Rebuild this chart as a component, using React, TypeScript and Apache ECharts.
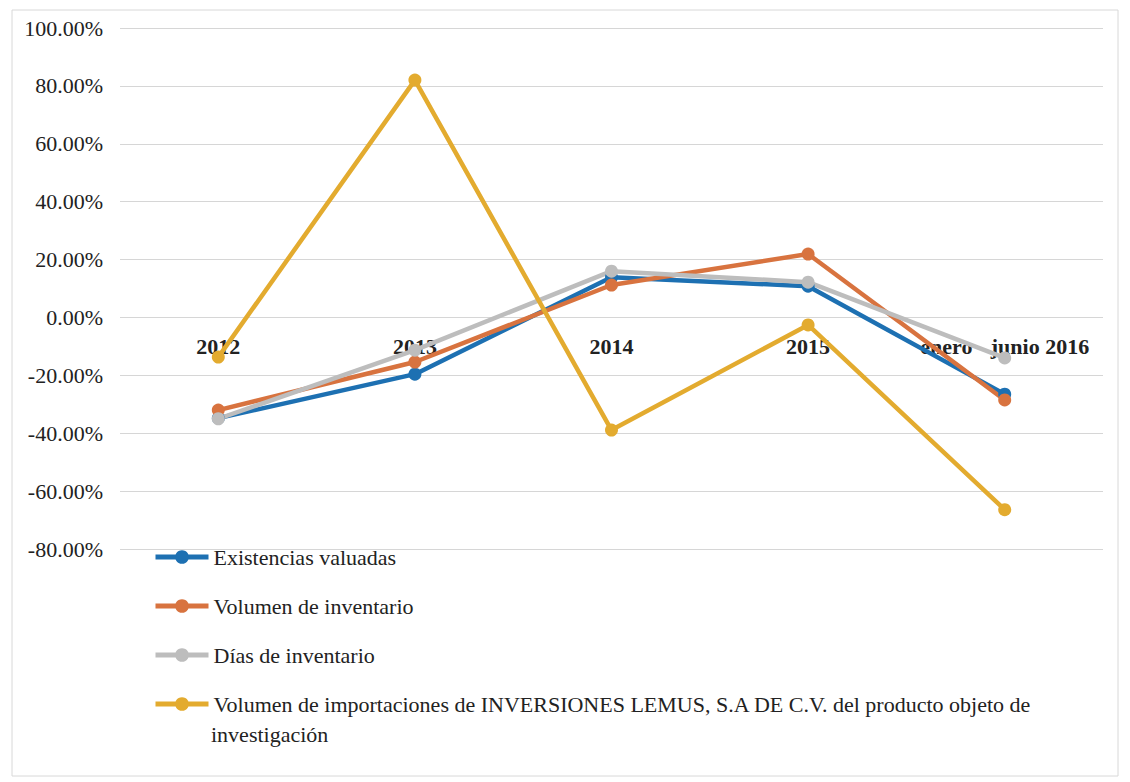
import React, { useEffect, useRef } from "react";
import * as echarts from "echarts";

const categories = ["2012", "2013", "2014", "2015", "enero - junio 2016"];
const existencias = [-34.8, -19.6, 13.9, 10.8, -26.5];
const volumenInv = [-32.0, -15.4, 11.2, 21.9, -28.5];
const diasInv = [-35.0, -11.3, 16.0, 12.2, -14.0];
const importaciones = [-13.7, 82.0, -38.9, -2.6, -66.4];
const yTicks = { min: -80, max: 100, interval: 20 };

const NAME_A = "Existencias valuadas";
const NAME_B = "Volumen de inventario";
const NAME_C = "Días de inventario";
const NAME_D =
  "Volumen de importaciones de INVERSIONES LEMUS, S.A DE C.V. del producto objeto de investigación";
const NAME_D_LINE1 =
  "Volumen de importaciones de INVERSIONES LEMUS, S.A DE C.V. del producto objeto de";
const NAME_D_LINE2 = "investigación";

const FONT = "Liberation Serif";

const GRID_TOP = 28;
const GRID_BOTTOM = 233;
const CHART_H = 782;

export default function App() {
  const ref = useRef<HTMLDivElement>(null);
  useEffect(() => {
    if (!ref.current) return;
    const chart = echarts.init(ref.current, undefined, { renderer: "svg" });
    const plotH = CHART_H - GRID_TOP - GRID_BOTTOM;
    const zeroFromBottom = (plotH * (0 - yTicks.min)) / (yTicks.max - yTicks.min);
    const mk = (name: string, data: number[], color: string) => ({
      name,
      type: "line",
      data,
      symbol: "circle",
      symbolSize: 13,
      lineStyle: { color, width: 4.5 },
      itemStyle: { color },
      z: 3,
    });
    chart.setOption({
      animation: false,
      backgroundColor: "#ffffff",
      textStyle: { fontFamily: FONT },
      grid: { left: 120, right: 27, top: GRID_TOP, bottom: GRID_BOTTOM },
      xAxis: {
        type: "category",
        data: categories,
        boundaryGap: true,
        offset: -zeroFromBottom,
        axisLine: { show: false, onZero: false },
        axisTick: { show: false },
        axisLabel: {
          margin: 18,
          fontFamily: FONT,
          fontSize: 22,
          fontWeight: "bold",
          color: "#222",
          interval: 0,
        },
        splitLine: { show: false },
      },
      yAxis: {
        type: "value",
        min: yTicks.min,
        max: yTicks.max,
        interval: yTicks.interval,
        axisLine: { show: false },
        axisTick: { show: false },
        axisLabel: {
          margin: 17,
          fontFamily: FONT,
          fontSize: 22,
          color: "#222",
          formatter: (v: number) => v.toFixed(2) + "%",
        },
        splitLine: { lineStyle: { color: "#d6d6d6", width: 1 } },
      },
      legend: {
        orient: "vertical",
        left: 153,
        top: 545,
        padding: 0,
        itemWidth: 53,
        itemHeight: 17,
        itemGap: 25,
        lineStyle: { width: 5 },
        textStyle: { fontFamily: FONT, fontSize: 22, color: "#222", lineHeight: 24 },
        formatter: (name: string) => (name === NAME_D ? NAME_D_LINE1 : name),
        data: [NAME_A, NAME_B, NAME_C, NAME_D],
      },
      graphic: [
        {
          type: "rect",
          shape: { x: 12, y: 10, width: 1106, height: 766 },
          style: { fill: "none", stroke: "#d8d8d8", lineWidth: 1 },
          silent: true,
          z: -1,
        },
        {
          type: "text",
          x: 211,
          y: 734,
          style: {
            text: NAME_D_LINE2,
            font: `22px ${FONT}`,
            fill: "#222",
            verticalAlign: "middle",
          },
        },
      ],
      series: [
        mk(NAME_A, existencias, "#1d70b2"),
        mk(NAME_B, volumenInv, "#d8733f"),
        mk(NAME_C, diasInv, "#bdbdbd"),
        mk(NAME_D, importaciones, "#e3ab2f"),
      ],
    });
    return () => chart.dispose();
  }, []);
  return (
    <div
      ref={ref}
      style={{ position: "fixed", left: 0, top: 0, width: 1130, height: 782 }}
    />
  );
}
